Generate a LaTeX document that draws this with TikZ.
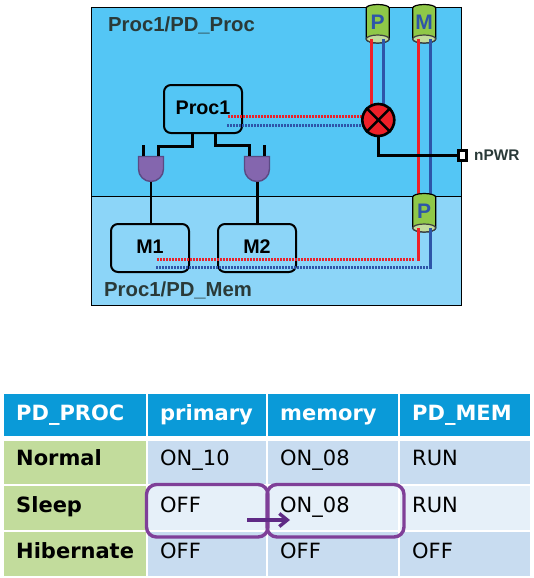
\documentclass[tikz,border=0pt]{standalone}
\usepackage{fontspec}
\setmainfont{Liberation Sans}
\newfontfamily\tablefont{DejaVu Sans}
\usetikzlibrary{arrows.meta}
\definecolor{areaA}{HTML}{54C6F5}
\definecolor{areaB}{HTML}{8CD5F8}
\definecolor{wred}{HTML}{EE2028}
\definecolor{wblue}{HTML}{2E55A8}
\definecolor{gatefill}{HTML}{8466AE}
\definecolor{gateline}{HTML}{5A4A84}
\definecolor{cylbody}{HTML}{8FC848}
\definecolor{cyltop}{HTML}{C2DC9C}
\definecolor{labelgrey}{HTML}{2A3A38}
\definecolor{headblue}{HTML}{0A9AD8}
\definecolor{rowgreen}{HTML}{C2DC9C}
\definecolor{cellblue}{HTML}{C8DCF0}
\definecolor{celllight}{HTML}{E6F0F9}
\definecolor{purpleA}{HTML}{7F3F98}
\definecolor{purpleB}{HTML}{5F2A85}
\tikzset{
  blockbox/.style={draw=black,line width=2pt,rounded corners=7pt,inner sep=0pt},
  blocktext/.style={font=\fontsize{19.7}{20}\selectfont\bfseries,inner sep=0pt},
  sig/.style={draw=black,line width=2.8pt},
  solidred/.style={draw=wred,line width=3.2pt},
  solidblue/.style={draw=wblue,line width=3.2pt},
  dotred/.style={draw=wred,line width=3pt,dash pattern=on 1.8pt off 1.2pt},
  dotblue/.style={draw=wblue,line width=3pt,dash pattern=on 1.8pt off 1.2pt},
  arealabel/.style={text=labelgrey,font=\fontsize{20.3}{22}\selectfont\bfseries,anchor=base west,inner sep=0pt},
  cell/.style={anchor=north west,inner ysep=0pt,inner xsep=0pt,align=left,font=\tablefont\fontsize{21}{22}\selectfont},
  headcell/.style={cell,fill=headblue,text=white,font=\tablefont\fontsize{21}{22}\selectfont\bfseries},
  keycell/.style={cell,fill=rowgreen,font=\tablefont\fontsize{21}{22}\selectfont\bfseries},
  bluecell/.style={cell,fill=cellblue},
  lightcell/.style={cell,fill=celllight},
  highlight/.style={draw=purpleA,line width=3.4pt,rounded corners=10pt},
  movearrow/.style={draw=purpleB,line width=3.4pt,-{Straight Barb[length=8pt,width=13pt]}}
}
% name, centre x, top y, letter
\newcommand{\isolator}[4]{%
  \node[minimum width=23pt,minimum height=39pt,inner sep=0pt] (#1) at (#2,#3+19.5) {};
  \path[fill=cylbody,draw=black,line width=1.2pt]
    (#2-11.5,#3+4) arc[x radius=11.5,y radius=3.5,start angle=180,end angle=360]
    -- (#2+11.5,#3+35) arc[x radius=11.5,y radius=4,start angle=0,end angle=180] -- cycle;
  \path[fill=cyltop,draw=black!75,line width=1.2pt] (#2,#3+35) ellipse[x radius=11.5,y radius=4];
  \node[text=wblue,font=\fontsize{21}{22}\selectfont\bfseries,inner sep=0pt] at (#2,#3+18) {#4};
}
% name, centre x
\newcommand{\andgate}[2]{%
  \node[minimum width=26pt,minimum height=26pt,inner sep=0pt] (#1) at (#2,169) {};
  \path[fill=gatefill,draw=gateline,line width=1.4pt]
    (#2-12.5,156.5) -- (#2+12.5,156.5) -- (#2+12.5,169)
    arc[radius=12.5,start angle=0,end angle=180] -- cycle;
}
% name, x, y, width, height, baseline offset, style, text
\newcommand{\tcell}[8]{%
  \node[#7,minimum width=#4pt,text width=#4pt-12pt,inner xsep=6pt,text height=#6pt,text depth=#5pt-#6pt] (#1) at (#2,#3) {\hspace*{6pt}#8};
}
\begin{document}
\begin{tikzpicture}[x=1pt,y=-1pt]
\useasboundingbox (0,0) rectangle (534,578);
\fill[white] (0,0) rectangle (534,578);
% power domains
\path[fill=areaA] (91.5,7.5) rectangle (461.5,196);
\path[fill=areaB] (91.5,196) rectangle (461.5,305);
\draw[black,line width=1pt] (91.5,196) -- (461.5,196);
\draw[black,line width=1pt] (91.5,7.5) rectangle (461.5,305);
\node[arealabel] (lblproc) at (108,32) {Proc1/PD\_Proc};
\node[arealabel] (lblmem) at (104,296) {Proc1/PD\_Mem};
% coordinates for wires
\coordinate (pr) at (371.7,39);
\coordinate (pb) at (383.3,39);
\coordinate (mr) at (418.7,39);
\coordinate (mb) at (430.3,39);
\coordinate (qr) at (418.5,228);
\coordinate (qb) at (430.3,228);
\coordinate (qrt) at (418.7,200);
\coordinate (qbt) at (430.3,200);
\coordinate (xr) at (371.7,108);
\coordinate (xb) at (383.3,108);
\coordinate (dr1) at (228,116);
\coordinate (dr2) at (364,116);
\coordinate (db1) at (227,125.5);
\coordinate (db2) at (364,125.5);
\coordinate (er1) at (157,259.3);
\coordinate (er2) at (415,259.3);
\coordinate (eb1) at (156,267.5);
\coordinate (eb2) at (429,267.5);
\coordinate (qrc) at (418.5,260.7);
\coordinate (qbc) at (430.3,269);
% blocks
\node[blockbox,minimum width=78pt,minimum height=48pt] (proc) at (203,109) {};
\node[blockbox,minimum width=78pt,minimum height=48pt] (mone) at (150,248) {};
\node[blockbox,minimum width=78pt,minimum height=48pt] (mtwo) at (257,248) {};
\node[blocktext] at (203,107.5) {Proc1};
\node[blocktext] at (150,247) {M1};
\node[blocktext] at (257,247) {M2};
% wires
\draw[solidred] (pr) -- (xr);
\draw[solidblue] (pb) -- (xb);
\draw[solidred] (mr) -- (qrt);
\draw[solidblue] (mb) -- (qbt);
\draw[dotred] (dr1) -- (dr2);
\draw[dotblue] (db1) -- (db2);
\draw[dotred] (er1) -- (er2);
\draw[dotblue] (eb1) -- (eb2);
% isolators
\isolator{isoP}{377.7}{4}{P}
\isolator{isoM}{424.2}{4}{M}
\isolator{isoQ}{424.2}{193}{P}
\draw[solidred] (pr) -- ++(0,6);
\draw[solidblue] (pb) -- ++(0,6);
\draw[solidred] (mr) -- ++(0,6);
\draw[solidblue] (mb) -- ++(0,6);
\draw[solidred] (qr) -- (qrc);
\draw[solidblue] (qb) -- (qbc);
% gates
\andgate{gone}{151}
\andgate{gtwo}{257}
\coordinate (g1a) at (143.3,145);
\coordinate (g1ae) at (143.3,156);
\coordinate (g1b) at (158.3,156);
\coordinate (g2a) at (249.3,156);
\coordinate (g2b) at (264.3,145);
\coordinate (g2be) at (264.3,156);
\coordinate (pl) at (192.3,133);
\coordinate (pll) at (192.3,146.3);
\coordinate (pr2) at (215.7,133);
\coordinate (prl) at (215.7,145.3);
\draw[sig,line join=miter] (pl) -- (pll) -| (g1b);
\draw[sig,line join=miter] (pr2) -- (prl) -| (g2a);
\draw[sig] (g1a) -- (g1ae);
\draw[sig] (g2b) -- (g2be);
\draw[sig,line width=2.2pt] (gone.south) -- (gone.south |- mone.north);
\draw[sig,line width=3pt] (gtwo.south) -- (gtwo.south |- mtwo.north);
% switch
\node[circle,draw=black,line width=2.6pt,fill=wred,minimum size=32pt,inner sep=0pt] (sw) at (378.3,120) {};
\draw[black,line width=2.4pt] (sw.north west) -- (sw.south east);
\draw[black,line width=2.4pt] (sw.north east) -- (sw.south west);
% nPWR
\node[draw=black,line width=2.8pt,fill=white,minimum width=8pt,minimum height=10pt,inner sep=0pt] (pwr) at (462.7,155.5) {};
\node[font=\fontsize{15.4}{16}\selectfont\bfseries,text=labelgrey,inner sep=0pt,anchor=west] (pwrl) at (474,155.5) {nPWR};
\draw[sig] (sw.south) |- (pwr.west);
% table
\tcell{h1}{4}{394}{142}{42}{26}{headcell}{PD\_PROC}
\tcell{h2}{148}{394}{118}{42}{26}{headcell}{primary}
\tcell{h3}{268}{394}{130}{42}{26}{headcell}{memory}
\tcell{h4}{400}{394}{130}{42}{26}{headcell}{PD\_MEM}
\tcell{a1}{4}{441}{142}{43}{24.5}{keycell}{Normal}
\tcell{a2}{148}{441}{118}{43}{24.5}{bluecell}{ON\_10}
\tcell{a3}{268}{441}{130}{43}{24.5}{bluecell}{ON\_08}
\tcell{a4}{400}{441}{130}{43}{24.5}{bluecell}{RUN}
\tcell{b1}{4}{486}{142}{44}{26}{keycell}{Sleep}
\tcell{b2}{148}{486}{118}{44}{26}{lightcell}{OFF}
\tcell{b3}{268}{486}{130}{44}{26}{lightcell}{ON\_08}
\tcell{b4}{400}{486}{130}{44}{26}{lightcell}{RUN}
\tcell{c1}{4}{532}{142}{44}{26}{keycell}{Hibernate}
\tcell{c2}{148}{532}{118}{44}{26}{bluecell}{OFF}
\tcell{c3}{268}{532}{130}{44}{26}{bluecell}{OFF}
\tcell{c4}{400}{532}{130}{44}{26}{bluecell}{OFF}
% highlights
\coordinate (hA1) at (146.5,484.5);
\coordinate (hA2) at (268,537);
\coordinate (hB1) at (267,484.5);
\coordinate (hB2) at (404,537);
\draw[highlight] (hA1) rectangle (hA2);
\draw[highlight] (hB1) rectangle (hB2);
\coordinate (ms) at (247,520);
\coordinate (me) at (290,520);
\draw[movearrow] (ms) -- (me);
\end{tikzpicture}
\end{document}
